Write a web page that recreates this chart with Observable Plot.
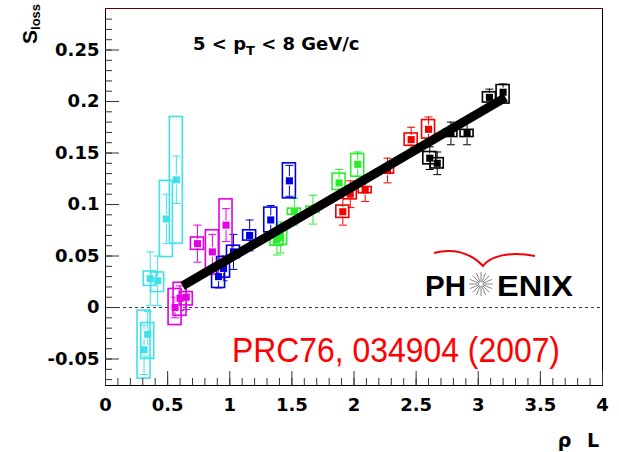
<!DOCTYPE html>
<html><head><meta charset="utf-8">
<script src="https://cdn.jsdelivr.net/npm/d3@7"></script>
<script src="https://cdn.jsdelivr.net/npm/@observablehq/plot@0.6"></script>
<style>
html,body{margin:0;padding:0;background:#fff;}
#chart{position:relative;width:619px;height:452px;}
#chart svg{font-family:"DejaVu Sans",sans-serif;}
#chart svg g[aria-label$="tick label"] text{font-weight:bold;}
</style></head><body><div id="chart"></div>
<script>
// ---- data ----
const seriesNames  = ["set1","set2","set3","set4","set5","set6"];
const seriesColors = ["#3fe2ea","#e400e4","#0000dc","#2aee2a","#f40000","#000000"];

const pointSeries = [
  "set1","set1","set1","set1","set1","set1",
  "set2","set2","set2","set2","set2","set2",
  "set3","set3","set3","set3","set3","set3",
  "set4","set4","set4","set4","set4","set4",
  "set5","set5","set5","set5","set5","set5",
  "set6","set6","set6","set6","set6","set6"];
const pointX = [0.31,0.34,0.36,0.42,0.49,0.57, 0.56,0.60,0.65,0.74,0.86,0.97,
  0.91,0.95,1.03,1.16,1.33,1.48, 1.38,1.41,1.52,1.67,1.88,2.03,
  1.91,1.97,2.09,2.27,2.46,2.60, 2.61,2.67,2.78,2.91,3.09,3.20];
const pointY = [-0.041,-0.026,0.028,0.026,0.086,0.124, 0.000,0.009,0.010,0.062,0.054,0.080,
  0.030,0.038,0.054,0.070,0.085,0.123, 0.066,0.068,0.093,0.095,0.121,0.139,
  0.093,0.110,0.114,0.133,0.163,0.173, 0.145,0.140,0.169,0.169,0.204,0.209];
const pointStat = [0.024,0.022,0.026,0.024,0.024,0.023, 0.010,0.012,0.012,0.018,0.017,0.016,
  0.011,0.012,0.017,0.015,0.014,0.015, 0.015,0.015,0.013,0.014,0.013,0.012,
  0.013,0.013,0.011,0.012,0.012,0.012, 0.011,0.011,0.011,0.011,0.008,0.008];
const pointSysLo = [-0.069,-0.050,0.021,0.015,0.049,0.062, -0.017,-0.008,0.002,0.056,0.032,0.046,
  0.019,0.029,0.048,0.065,0.073,0.106, 0.060,0.061,0.090,0.092,0.114,0.127,
  0.087,0.105,0.111,0.130,0.157,0.164, 0.139,0.135,0.1655,0.1655,0.199,0.198];
const pointSysHi = [-0.003,-0.015,0.035,0.034,0.123,0.185, 0.018,0.024,0.015,0.068,0.075,0.105,
  0.041,0.049,0.060,0.075,0.097,0.140, 0.072,0.075,0.096,0.098,0.130,0.149,
  0.099,0.115,0.117,0.136,0.169,0.182, 0.151,0.145,0.1725,0.1725,0.209,0.216];

const fitX = [0.62, 3.22];
const fitY = [0.021, 0.204];

const xDomain = [0, 4];
const yDomain = [-0.0757, 0.2903];
const xTickValues = [0,0.5,1,1.5,2,2.5,3,3.5,4];
const xTickLabels = ["0","0.5","1","1.5","2","2.5","3","3.5","4"];
const yTickValues = [-0.05,0,0.05,0.1,0.15,0.2,0.25];
const yTickLabels = ["-0.05","0","0.05","0.1","0.15","0.2","0.25"];
const xMinorTicks = d3.range(0, 40).map(i => i / 10);
const yMinorTicks = d3.range(-7, 29).map(i => i / 100);

const titleText = "5 < p";
const titleSub = "T";
const titleRest = " < 8 GeV/c";
const yLabelMain = "S", yLabelSub = "loss";
const xLabel = "ρ L";
const refText = "PRC76, 034904 (2007)";

// ---- build ----
const points = pointX.map((x, i) => ({
  series: pointSeries[i], x, y: pointY[i],
  lo: pointY[i] - pointStat[i], hi: pointY[i] + pointStat[i],
  sysLo: pointSysLo[i], sysHi: pointSysHi[i]
}));
const fit = fitX.map((x, i) => ({x, y: fitY[i]}));

const W = 619, H = 452, mL = 105, mR = 17, mT = 8, mB = 67;
const pw = W - mL - mR, ph = H - mT - mB;

const capSymbol = {draw(ctx, size) { const r = Math.sqrt(size / Math.PI); ctx.moveTo(-r, 0); ctx.lineTo(r, 0); }};

const chart = Plot.plot({
  width: W, height: H,
  marginLeft: mL, marginRight: mR, marginTop: mT, marginBottom: mB,
  x: {domain: xDomain},
  y: {domain: yDomain},
  color: {type: "ordinal", domain: seriesNames, range: seriesColors},
  style: {background: "white", fontFamily: "DejaVu Sans, sans-serif"},
  marks: [
    Plot.ruleY([0], {stroke: "#222", strokeWidth: 0.9, strokeDasharray: "3,3"}),
    // statistical error bars
    Plot.ruleX(points, {x: "x", y1: "lo", y2: "hi", stroke: "series", strokeWidth: 1}),
    Plot.dot(points, {x: "x", y: "lo", symbol: capSymbol, r: 4, fill: "none", stroke: "series", strokeWidth: 1}),
    Plot.dot(points, {x: "x", y: "hi", symbol: capSymbol, r: 4, fill: "none", stroke: "series", strokeWidth: 1}),
    // gap around markers
    Plot.dot(points, {x: "x", y: "y", symbol: "square", r: 5.3, fill: "white", stroke: "none"}),
    // systematic boxes
    Plot.rect(points, {x1: "x", x2: "x", y1: "sysLo", y2: "sysHi", insetLeft: -6.5, insetRight: -6.5,
      fill: "none", stroke: "series", strokeWidth: 1.6}),
    // markers
    Plot.dot(points, {x: "x", y: "y", symbol: "square", r: 4, fill: "series", stroke: "none"}),
    // fit line
    Plot.line(fit, {x: "x", y: "y", stroke: "black", strokeWidth: 9, strokeLinecap: "butt"}),
    // frame + ticks
    Plot.frame({stroke: "black", strokeWidth: 1}),
    Plot.ruleY([yDomain[1]], {stroke: "#5e0000", strokeWidth: 1.2}),
    Plot.tickY(yMinorTicks, {y: d => d, insetRight: pw - 7, stroke: "#333"}),
    Plot.tickY(yTickValues, {y: d => d, insetRight: pw - 14, stroke: "#333"}),
    Plot.tickX(xMinorTicks, {x: d => d, insetTop: ph - 7, stroke: "#333"}),
    Plot.tickX(xTickValues, {x: d => d, insetTop: ph - 14, stroke: "#333"}),
    Plot.axisY(yTickValues, {tickSize: 0, tickPadding: 6, fontSize: 18, fontWeight: "bold",
      tickFormat: d => yTickLabels[yTickValues.indexOf(d)], label: null}),
    Plot.axisX(xTickValues, {tickSize: 0, tickPadding: 13, fontSize: 18, fontWeight: "bold",
      tickFormat: d => xTickLabels[xTickValues.indexOf(d)], label: null})
  ]
});
document.getElementById("chart").appendChild(chart);

// ---- annotations ----
const svg = d3.select(chart);
// title
const t = svg.append("text").attr("x", 193).attr("y", 50).attr("text-anchor", "start")
  .attr("font-family", "DejaVu Sans").attr("font-weight", "bold").attr("font-size", 18).attr("fill", "black");
t.append("tspan").text(titleText);
t.append("tspan").attr("font-size", 13).attr("dy", 5).text(titleSub);
t.append("tspan").attr("dy", -5).text(titleRest);
// y label
const yl = svg.append("text").attr("transform", "translate(37,44) rotate(-90)").attr("text-anchor", "start")
  .attr("font-family", "Liberation Sans").attr("font-weight", "bold").attr("font-size", 21).attr("fill", "black");
yl.append("tspan").text(yLabelMain);
yl.append("tspan").attr("font-size", 13).attr("dy", 3).text(yLabelSub);
// x label
svg.append("text").attr("x", 599).attr("y", 447).attr("text-anchor", "end")
  .attr("font-family", "DejaVu Sans").attr("font-weight", "bold").attr("font-size", 19)
  .attr("word-spacing", 9).text(xLabel);
// reference
svg.append("text").attr("x", 232).attr("y", 362).attr("text-anchor", "start")
  .attr("font-family", "Liberation Sans").attr("font-size", 35).attr("fill", "#ff0000")
  .attr("textLength", 328).attr("lengthAdjust", "spacingAndGlyphs").text(refText);
// PHENIX logo
const logo = svg.append("g").attr("text-anchor", "start");
logo.append("path").attr("d", "M434,253 C452,248 470,252 483,266 C490,256 510,251 535,256")
  .attr("fill", "none").attr("stroke", "#f00000").attr("stroke-width", 2);
logo.append("text").attr("x", 425).attr("y", 296).attr("font-family", "Liberation Sans")
  .attr("font-weight", "bold").attr("font-size", 30).attr("textLength", 41)
  .attr("lengthAdjust", "spacingAndGlyphs").text("PH");
logo.append("text").attr("x", 497).attr("y", 296).attr("font-family", "Liberation Sans")
  .attr("font-weight", "bold").attr("font-size", 30).attr("textLength", 76)
  .attr("lengthAdjust", "spacingAndGlyphs").text("ENIX");
for (let k = 0; k < 16; k++) {
  const a = k * Math.PI / 8;
  logo.append("line")
    .attr("x1", 481 + 2 * Math.cos(a)).attr("y1", 284 + 2 * Math.sin(a))
    .attr("x2", 481 + 12 * Math.cos(a)).attr("y2", 284 + 12 * Math.sin(a))
    .attr("stroke", "#8a8a8a").attr("stroke-width", 1);
}
</script></body></html>
